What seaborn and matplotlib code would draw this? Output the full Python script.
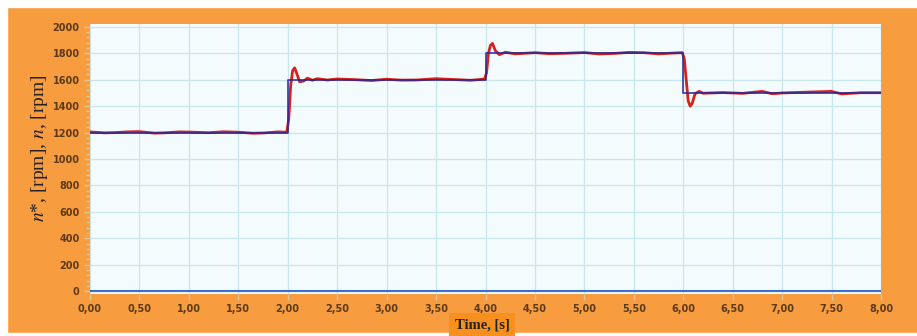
import numpy as np
import pandas as pd
import seaborn as sns
import matplotlib.pyplot as plt
from matplotlib.patches import Rectangle
from matplotlib.ticker import MultipleLocator, FuncFormatter

# reference speed n* (step changes)
ref_time = [0.0, 2.0, 4.0, 6.0, 8.0]
ref_speed = [1200, 1600, 1800, 1500, 1500]

meas_time = [0.00, 0.15, 0.25, 0.40, 0.50, 0.65, 0.75, 0.90, 1.00, 1.20, 1.35, 1.50,
             1.65, 1.75, 1.90, 1.99,
             2.01, 2.03, 2.05, 2.07, 2.09, 2.12, 2.16, 2.20, 2.25, 2.30, 2.40, 2.50,
             2.70, 2.85, 3.00, 3.15, 3.30, 3.50, 3.70, 3.85, 3.99,
             4.01, 4.03, 4.05, 4.07, 4.10, 4.14, 4.20, 4.30, 4.50, 4.65, 4.80, 5.00,
             5.15, 5.30, 5.45, 5.60, 5.75, 5.90, 5.99,
             6.01, 6.03, 6.05, 6.07, 6.09, 6.12, 6.16, 6.20, 6.40, 6.60, 6.80,
             6.90, 7.00, 7.20, 7.50, 7.60, 7.80, 8.00]
meas_speed = [1205, 1198, 1200, 1206, 1207, 1196, 1198, 1205, 1204, 1199, 1206, 1203,
              1195, 1197, 1205, 1203,
              1300, 1560, 1670, 1690, 1650, 1585, 1590, 1612, 1596, 1608, 1598, 1606,
              1600, 1594, 1604, 1597, 1598, 1608, 1601, 1596, 1605,
              1650, 1800, 1860, 1875, 1820, 1790, 1808, 1796, 1805, 1797, 1800, 1806,
              1795, 1799, 1807, 1805, 1796, 1802, 1805,
              1760, 1600, 1440, 1400, 1420, 1495, 1512, 1498, 1503, 1497, 1512,
              1494, 1500, 1505, 1512, 1493, 1502, 1502]

# third trace sitting at zero
zero_time = [0.0, 8.0]
zero_val = [0, 0]

orange = '#f89c40'

fig = plt.figure(figsize=(9.17, 3.36), dpi=100, facecolor=orange)
# white frame strips at the image edges
fig.patches.append(Rectangle((0, 1 - 7 / 336), 1, 7 / 336, transform=fig.transFigure,
                             color='white', zorder=-1))
fig.patches.append(Rectangle((0, 0), 7 / 917, 1, transform=fig.transFigure,
                             color='white', zorder=-1))
fig.patches.append(Rectangle((0, 0), 1, 3 / 336, transform=fig.transFigure,
                             color='white', zorder=-1))

ax = fig.add_axes([90 / 917, 1 - 294 / 336, 791 / 917, 270 / 336])
ax.set_facecolor('#f4fbfd')

meas = pd.DataFrame({'t': meas_time, 'n': meas_speed})
ref = pd.DataFrame({'t': ref_time, 'n': ref_speed})
zero = pd.DataFrame({'t': zero_time, 'n': zero_val})

sns.lineplot(data=meas, x='t', y='n', color='#d8201c', lw=2.0, ax=ax, zorder=3)
sns.lineplot(data=ref, x='t', y='n', color='#1f2a9c', lw=1.3, alpha=0.85,
             drawstyle='steps-post', ax=ax, zorder=4)
sns.lineplot(data=zero, x='t', y='n', color='#3a6fd0', lw=1.5, ax=ax, zorder=4)

ax.set_xlim(0, 8)
ax.set_ylim(-22, 2022)
ax.xaxis.set_major_locator(MultipleLocator(0.5))
ax.yaxis.set_major_locator(MultipleLocator(200))
ax.yaxis.set_minor_locator(MultipleLocator(40))
ax.xaxis.set_major_formatter(FuncFormatter(lambda v, p: f'{v:.2f}'.replace('.', ',')))
ax.grid(True, which='major', color='#c9e7ea', lw=0.9)
ax.set_axisbelow(True)
for s in ax.spines.values():
    s.set_visible(False)

ax.tick_params(axis='both', which='major', labelsize=7, labelcolor='#5b3a18',
               color='#d8c79a', length=4, width=1)
ax.tick_params(axis='y', which='minor', color='#d8c79a', length=3, width=1)
for lab in ax.get_xticklabels() + ax.get_yticklabels():
    lab.set_fontweight('bold')

ax.set_xlabel('')
ax.set_ylabel('')
fig.text(40 / 917, 1 - 148 / 336, r'$n$*, [rpm], $n$, [rpm]', rotation=90,
         ha='center', va='center', fontsize=14, family='Liberation Serif',
         color='#222222', math_fontfamily='stix')
fig.text(482 / 917, 1 - 325 / 336, 'Time, [s]', ha='center', va='center',
         fontsize=10.5, fontweight='bold', family='Liberation Serif', color='#222222',
         bbox=dict(boxstyle='square,pad=0.4', fc='#f7901e', ec='none'))

fig.savefig('out.png', dpi=100, facecolor=fig.get_facecolor())
